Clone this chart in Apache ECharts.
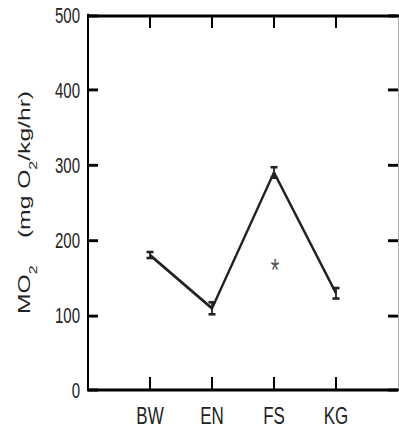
<!DOCTYPE html>
<html>
<head>
<meta charset="utf-8">
<script src="https://cdn.jsdelivr.net/npm/echarts@6/dist/echarts.min.js"></script>
<style>
  html, body { margin: 0; padding: 0; background: #fff; }
  body { width: 399px; height: 435px; }
  /* the source figure is stretched vertically, so draw flat and stretch */
  #main { width: 399px; height: 300px; transform: scaleY(1.45); transform-origin: 0 0; }
</style>
</head>
<body>
<div id="main"></div>
<script>
// data
const categories = ["BW", "EN", "FS", "KG"];
const mo2Mean = [180, 109, 290, 129];
const mo2Err = [4, 8, 7, 7];
const yMin = 0;
const yMax = 500;
const yStep = 100;
// significance mark (*) under FS
const starCategory = "FS";
const starValue = 170;

const FONT = "Liberation Sans";
const INK = "#222";

const catPos = categories.map((c, i) => i + 1);
const lineData = mo2Mean.map((v, i) => [catPos[i], v]);
const errData = mo2Mean.map((v, i) => [catPos[i], v - mo2Err[i], v + mo2Err[i]]);
const starData = [[categories.indexOf(starCategory) + 1, starValue]];

const chart = echarts.init(document.getElementById("main"), null, { renderer: "svg" });

const xBase = {
  type: "value",
  min: 0,
  max: categories.length + 1,
  interval: 1,
  splitLine: { show: false },
  axisLine: { show: true, onZero: false, lineStyle: { color: "#000", width: 2 } },
  axisTick: {
    show: true,
    inside: true,
    length: 9,
    customValues: catPos,
    lineStyle: { color: "#000", width: 2 },
  },
};

const yBase = {
  type: "value",
  min: yMin,
  max: yMax,
  interval: yStep,
  splitLine: { show: false },
  axisTick: {
    show: true,
    inside: true,
    length: 10,
    lineStyle: { color: "#000", width: 2 },
  },
};

const option = {
  animation: false,
  backgroundColor: "#fff",
  grid: { left: 88, right: 1, top: 10.3, bottom: 31 },
  xAxis: [
    {
      ...xBase,
      position: "bottom",
      axisLabel: {
        show: true,
        margin: 9,
        customValues: catPos,
        formatter: (v) => categories[v - 1] || "",
        fontFamily: FONT,
        fontSize: 17,
        color: INK,
      },
    },
    {
      ...xBase,
      position: "top",
      axisLabel: { show: false },
    },
  ],
  yAxis: [
    {
      ...yBase,
      position: "left",
      axisLine: { show: true, onZero: false, lineStyle: { color: "#000", width: 2 } },
      axisLabel: {
        margin: 8,
        fontFamily: FONT,
        fontSize: 15,
        color: INK,
      },
      name: "{a|MO}{s|2}{a|    (mg O}{s|2}{a|/kg/hr)}",
      nameLocation: "middle",
      nameRotate: 90,
      nameGap: 49,
      nameTextStyle: {
        fontFamily: FONT,
        fontSize: 17,
        color: INK,
        rich: {
          a: { fontFamily: FONT, fontSize: 17, color: INK, lineHeight: 30 },
          s: {
            fontFamily: FONT,
            fontSize: 11,
            color: INK,
            lineHeight: 14,
            verticalAlign: "bottom",
          },
        },
      },
    },
    {
      ...yBase,
      position: "right",
      axisLine: { show: true, onZero: false, lineStyle: { color: "#aaa", width: 1 } },
      axisLabel: { show: false },
    },
  ],
  series: [
    {
      name: "MO2",
      type: "line",
      data: lineData,
      symbol: "none",
      lineStyle: { color: INK, width: 2.2 },
      z: 3,
    },
    {
      name: "SE",
      type: "custom",
      data: errData,
      z: 4,
      renderItem: (params, api) => {
        const lo = api.coord([api.value(0), api.value(1)]);
        const hi = api.coord([api.value(0), api.value(2)]);
        const half = 3.5;
        const style = { stroke: INK, lineWidth: 1.8 };
        return {
          type: "group",
          children: [
            { type: "line", shape: { x1: lo[0], y1: lo[1], x2: hi[0], y2: hi[1] }, style },
            { type: "line", shape: { x1: lo[0] - half, y1: lo[1], x2: lo[0] + half, y2: lo[1] }, style },
            { type: "line", shape: { x1: hi[0] - half, y1: hi[1], x2: hi[0] + half, y2: hi[1] }, style },
          ],
        };
      },
    },
    {
      name: "sig",
      type: "scatter",
      data: starData,
      symbolSize: 0,
      itemStyle: { color: INK },
      label: {
        show: true,
        position: "inside",
        formatter: "*",
        offset: [1, 5],
        fontFamily: FONT,
        fontSize: 22,
        color: INK,
        textBorderWidth: 0,
      },
    },
  ],
};

chart.setOption(option);
</script>
</body>
</html>
